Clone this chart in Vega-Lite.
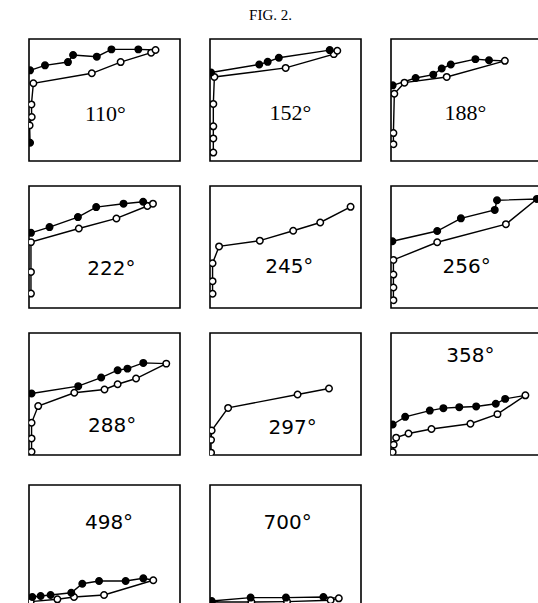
{
"$schema":"https://vega.github.io/schema/vega-lite/v6.json",
"padding":{"left":28,"top":8,"right":0,"bottom":0},
"background":"white",
"title":{"text":"FIG. 2.","font":"Liberation Serif","fontSize":15,"fontWeight":"normal","anchor":"middle","dx":-15,"offset":15,"color":"black"},
"config":{"view":{"stroke":"black","strokeWidth":1.6},"axis":{"disable":true},"mark":{"color":"black"},"line":{"stroke":"black","strokeWidth":1.4},"point":{"shape":"circle","filled":true,"stroke":"black","strokeWidth":1.5,"size":42,"opacity":1},"text":{"font":"Liberation Serif","fontSize":22,"fill":"black","align":"center","baseline":"middle"}},
"datasets":{
"lab":[{"p":"110","t":"110°"},{"p":"152","t":"152°"},{"p":"188","t":"188°"},{"p":"222","t":"222°"},{"p":"245","t":"245°"},{"p":"256","t":"256°"},{"p":"288","t":"288°"},{"p":"297","t":"297°"},{"p":"358","t":"358°"},{"p":"498","t":"498°"},{"p":"700","t":"700°"}],
"d":[
{"p":"110","i":1,"x":0.7,"y":15.0,"f":"f"},{"p":"110","i":2,"x":0.4,"y":29.2,"f":"o"},{"p":"110","i":3,"x":1.8,"y":36.1,"f":"o"},{"p":"110","i":4,"x":1.6,"y":46.4,"f":"o"},{"p":"110","i":5,"x":2.9,"y":63.7,"f":"o"},{"p":"110","i":6,"x":41.6,"y":71.9,"f":"o"},{"p":"110","i":7,"x":60.7,"y":81.1,"f":"o"},{"p":"110","i":8,"x":80.9,"y":88.8,"f":"o"},{"p":"110","i":9,"x":83.8,"y":91.0,"f":"o"},{"p":"110","i":10,"x":72.4,"y":91.5,"f":"f"},{"p":"110","i":11,"x":54.6,"y":91.5,"f":"f"},{"p":"110","i":12,"x":44.9,"y":85.5,"f":"f"},{"p":"110","i":13,"x":29.2,"y":86.9,"f":"f"},{"p":"110","i":14,"x":25.8,"y":81.1,"f":"f"},{"p":"110","i":15,"x":10.6,"y":78.4,"f":"f"},{"p":"110","i":16,"x":0.7,"y":74.3,"f":"f"},
{"p":"152","i":1,"x":2.2,"y":6.9,"f":"o"},{"p":"152","i":2,"x":2.2,"y":18.5,"f":"o"},{"p":"152","i":3,"x":2.2,"y":28.4,"f":"o"},{"p":"152","i":4,"x":2.2,"y":46.8,"f":"o"},{"p":"152","i":5,"x":2.9,"y":68.9,"f":"o"},{"p":"152","i":6,"x":50.1,"y":76.3,"f":"o"},{"p":"152","i":7,"x":82.0,"y":87.6,"f":"o"},{"p":"152","i":8,"x":84.3,"y":90.4,"f":"o"},{"p":"152","i":9,"x":79.3,"y":90.9,"f":"f"},{"p":"152","i":10,"x":45.6,"y":84.6,"f":"f"},{"p":"152","i":11,"x":38.2,"y":81.3,"f":"f"},{"p":"152","i":12,"x":32.6,"y":79.1,"f":"f"},{"p":"152","i":13,"x":0.7,"y":72.5,"f":"f"},
{"p":"188","i":1,"x":1.6,"y":13.8,"f":"o"},{"p":"188","i":2,"x":1.6,"y":22.9,"f":"o"},{"p":"188","i":3,"x":2.2,"y":55.1,"f":"o"},{"p":"188","i":4,"x":8.9,"y":64.2,"f":"o"},{"p":"188","i":5,"x":36.9,"y":68.9,"f":"o"},{"p":"188","i":6,"x":75.4,"y":82.1,"f":"o"},{"p":"188","i":7,"x":64.9,"y":82.6,"f":"f"},{"p":"188","i":8,"x":55.9,"y":83.5,"f":"f"},{"p":"188","i":9,"x":39.6,"y":79.1,"f":"f"},{"p":"188","i":10,"x":33.6,"y":75.8,"f":"f"},{"p":"188","i":11,"x":28.0,"y":70.8,"f":"f"},{"p":"188","i":12,"x":16.3,"y":68.0,"f":"f"},{"p":"188","i":13,"x":1.1,"y":62.0,"f":"f"},
{"p":"222","i":1,"x":1.3,"y":11.8,"f":"o"},{"p":"222","i":2,"x":1.3,"y":29.6,"f":"o"},{"p":"222","i":3,"x":1.3,"y":54.0,"f":"o"},{"p":"222","i":4,"x":33.0,"y":65.2,"f":"o"},{"p":"222","i":5,"x":57.9,"y":73.4,"f":"o"},{"p":"222","i":6,"x":78.4,"y":83.6,"f":"o"},{"p":"222","i":7,"x":82.1,"y":85.5,"f":"o"},{"p":"222","i":8,"x":75.6,"y":87.1,"f":"f"},{"p":"222","i":9,"x":62.6,"y":85.5,"f":"f"},{"p":"222","i":10,"x":44.5,"y":82.7,"f":"f"},{"p":"222","i":11,"x":32.4,"y":74.5,"f":"f"},{"p":"222","i":12,"x":13.6,"y":66.3,"f":"f"},{"p":"222","i":13,"x":1.3,"y":61.6,"f":"f"},
{"p":"245","i":1,"x":1.7,"y":11.7,"f":"o"},{"p":"245","i":2,"x":1.7,"y":22.0,"f":"o"},{"p":"245","i":3,"x":1.7,"y":36.7,"f":"o"},{"p":"245","i":4,"x":6.0,"y":50.5,"f":"o"},{"p":"245","i":5,"x":33.0,"y":55.2,"f":"o"},{"p":"245","i":6,"x":55.1,"y":63.3,"f":"o"},{"p":"245","i":7,"x":73.0,"y":70.1,"f":"o"},{"p":"245","i":8,"x":93.1,"y":82.9,"f":"o"},
{"p":"256","i":1,"x":1.6,"y":6.4,"f":"o"},{"p":"256","i":2,"x":1.6,"y":16.8,"f":"o"},{"p":"256","i":3,"x":1.6,"y":27.4,"f":"o"},{"p":"256","i":4,"x":1.6,"y":39.4,"f":"o"},{"p":"256","i":5,"x":30.6,"y":53.9,"f":"o"},{"p":"256","i":6,"x":76.1,"y":68.7,"f":"o"},{"p":"256","i":7,"x":96.6,"y":89.4,"f":"f"},{"p":"256","i":8,"x":70.2,"y":88.3,"f":"f"},{"p":"256","i":9,"x":68.7,"y":80.4,"f":"f"},{"p":"256","i":10,"x":46.3,"y":73.5,"f":"f"},{"p":"256","i":11,"x":30.6,"y":63.1,"f":"f"},{"p":"256","i":12,"x":0.9,"y":54.7,"f":"f"},
{"p":"288","i":1,"x":1.7,"y":2.7,"f":"o"},{"p":"288","i":2,"x":1.7,"y":13.6,"f":"o"},{"p":"288","i":3,"x":1.7,"y":26.4,"f":"o"},{"p":"288","i":4,"x":6.1,"y":40.1,"f":"o"},{"p":"288","i":5,"x":30.0,"y":51.0,"f":"o"},{"p":"288","i":6,"x":50.0,"y":53.7,"f":"o"},{"p":"288","i":7,"x":58.7,"y":58.0,"f":"o"},{"p":"288","i":8,"x":70.9,"y":62.7,"f":"o"},{"p":"288","i":9,"x":90.9,"y":74.9,"f":"o"},{"p":"288","i":10,"x":75.7,"y":75.5,"f":"f"},{"p":"288","i":11,"x":65.2,"y":70.8,"f":"f"},{"p":"288","i":12,"x":58.7,"y":69.5,"f":"f"},{"p":"288","i":13,"x":47.8,"y":63.5,"f":"f"},{"p":"288","i":14,"x":32.6,"y":56.4,"f":"f"},{"p":"288","i":15,"x":1.7,"y":50.4,"f":"f"},
{"p":"297","i":1,"x":0.7,"y":1.9,"f":"o"},{"p":"297","i":2,"x":0.7,"y":12.4,"f":"o"},{"p":"297","i":3,"x":1.1,"y":20.1,"f":"o"},{"p":"297","i":4,"x":12.0,"y":38.6,"f":"o"},{"p":"297","i":5,"x":58.0,"y":49.6,"f":"o"},{"p":"297","i":6,"x":78.8,"y":54.5,"f":"o"},
{"p":"358","i":1,"x":1.1,"y":2.3,"f":"o"},{"p":"358","i":2,"x":1.8,"y":8.5,"f":"o"},{"p":"358","i":3,"x":3.4,"y":14.2,"f":"o"},{"p":"358","i":4,"x":11.6,"y":17.6,"f":"o"},{"p":"358","i":5,"x":26.8,"y":21.3,"f":"o"},{"p":"358","i":6,"x":52.6,"y":25.6,"f":"o"},{"p":"358","i":7,"x":70.5,"y":33.5,"f":"o"},{"p":"358","i":8,"x":89.0,"y":48.9,"f":"o"},{"p":"358","i":9,"x":75.6,"y":46.0,"f":"f"},{"p":"358","i":10,"x":69.4,"y":42.0,"f":"f"},{"p":"358","i":11,"x":56.4,"y":39.8,"f":"f"},{"p":"358","i":12,"x":45.2,"y":39.2,"f":"f"},{"p":"358","i":13,"x":34.7,"y":38.4,"f":"f"},{"p":"358","i":14,"x":25.7,"y":36.4,"f":"f"},{"p":"358","i":15,"x":9.4,"y":31.3,"f":"f"},{"p":"358","i":16,"x":1.1,"y":25.0,"f":"f"},
{"p":"498","i":1,"x":1.1,"y":4.4,"f":"o"},{"p":"498","i":2,"x":18.8,"y":6.3,"f":"o"},{"p":"498","i":3,"x":29.8,"y":8.2,"f":"o"},{"p":"498","i":4,"x":49.7,"y":9.8,"f":"o"},{"p":"498","i":5,"x":82.3,"y":21.9,"f":"o"},{"p":"498","i":6,"x":75.7,"y":23.5,"f":"f"},{"p":"498","i":7,"x":64.0,"y":21.3,"f":"f"},{"p":"498","i":8,"x":46.4,"y":21.3,"f":"f"},{"p":"498","i":9,"x":35.3,"y":19.1,"f":"f"},{"p":"498","i":10,"x":28.0,"y":11.7,"f":"f"},{"p":"498","i":11,"x":14.3,"y":9.8,"f":"f"},{"p":"498","i":12,"x":7.7,"y":9.0,"f":"f"},{"p":"498","i":13,"x":2.2,"y":8.2,"f":"f"},
{"p":"700","i":1,"x":1.1,"y":4.1,"f":"o"},{"p":"700","i":2,"x":27.4,"y":4.1,"f":"o"},{"p":"700","i":3,"x":51.0,"y":4.4,"f":"o"},{"p":"700","i":4,"x":79.9,"y":5.5,"f":"o"},{"p":"700","i":5,"x":85.3,"y":7.1,"f":"o"},{"p":"700","i":6,"x":75.1,"y":8.2,"f":"f"},{"p":"700","i":7,"x":50.3,"y":7.7,"f":"f"},{"p":"700","i":8,"x":26.9,"y":7.7,"f":"f"},{"p":"700","i":9,"x":1.1,"y":4.9,"f":"f"}
]},
"spacing":28,
"vconcat":[
{"spacing":23,"vconcat":[
{"spacing":30,"bounds":"flush","hconcat":[
{"width":151,"height":122,"layer":[
{"data":{"name":"d"},"transform":[{"filter":"datum.p=='110'"}],"mark":{"type":"line","clip":true},"encoding":{"x":{"field":"x","type":"quantitative","scale":{"domain":[0,100],"nice":false}},"y":{"field":"y","type":"quantitative","scale":{"domain":[0,100],"nice":false}},"order":{"field":"i","type":"quantitative"}}},
{"data":{"name":"d"},"transform":[{"filter":"datum.p=='110'"}],"mark":{"type":"point","clip":true},"encoding":{"x":{"field":"x","type":"quantitative","scale":{"domain":[0,100],"nice":false}},"y":{"field":"y","type":"quantitative","scale":{"domain":[0,100],"nice":false}},"fill":{"field":"f","type":"nominal","scale":{"domain":["o","f"],"range":["white","black"]},"legend":null}}},
{"data":{"name":"lab"},"transform":[{"filter":"datum.p=='110'"}],"mark":"text","encoding":{"x":{"datum":50.6,"type":"quantitative","scale":{"domain":[0,100],"nice":false}},"y":{"datum":38.3,"type":"quantitative","scale":{"domain":[0,100],"nice":false}},"text":{"field":"t"}}}]},
{"width":151,"height":122,"layer":[
{"data":{"name":"d"},"transform":[{"filter":"datum.p=='152'"}],"mark":{"type":"line","clip":true},"encoding":{"x":{"field":"x","type":"quantitative","scale":{"domain":[0,100],"nice":false}},"y":{"field":"y","type":"quantitative","scale":{"domain":[0,100],"nice":false}},"order":{"field":"i","type":"quantitative"}}},
{"data":{"name":"d"},"transform":[{"filter":"datum.p=='152'"}],"mark":{"type":"point","clip":true},"encoding":{"x":{"field":"x","type":"quantitative","scale":{"domain":[0,100],"nice":false}},"y":{"field":"y","type":"quantitative","scale":{"domain":[0,100],"nice":false}},"fill":{"field":"f","type":"nominal","scale":{"domain":["o","f"],"range":["white","black"]},"legend":null}}},
{"data":{"name":"lab"},"transform":[{"filter":"datum.p=='152'"}],"mark":"text","encoding":{"x":{"datum":53.3,"type":"quantitative","scale":{"domain":[0,100],"nice":false}},"y":{"datum":39.4,"type":"quantitative","scale":{"domain":[0,100],"nice":false}},"text":{"field":"t"}}}]},
{"width":151,"height":122,"layer":[
{"data":{"name":"d"},"transform":[{"filter":"datum.p=='188'"}],"mark":{"type":"line","clip":true},"encoding":{"x":{"field":"x","type":"quantitative","scale":{"domain":[0,100],"nice":false}},"y":{"field":"y","type":"quantitative","scale":{"domain":[0,100],"nice":false}},"order":{"field":"i","type":"quantitative"}}},
{"data":{"name":"d"},"transform":[{"filter":"datum.p=='188'"}],"mark":{"type":"point","clip":true},"encoding":{"x":{"field":"x","type":"quantitative","scale":{"domain":[0,100],"nice":false}},"y":{"field":"y","type":"quantitative","scale":{"domain":[0,100],"nice":false}},"fill":{"field":"f","type":"nominal","scale":{"domain":["o","f"],"range":["white","black"]},"legend":null}}},
{"data":{"name":"lab"},"transform":[{"filter":"datum.p=='188'"}],"mark":"text","encoding":{"x":{"datum":49.2,"type":"quantitative","scale":{"domain":[0,100],"nice":false}},"y":{"datum":39.4,"type":"quantitative","scale":{"domain":[0,100],"nice":false}},"text":{"field":"t"}}}]}
]},
{"spacing":30,"bounds":"flush","hconcat":[
{"width":151,"height":122,"layer":[
{"data":{"name":"d"},"transform":[{"filter":"datum.p=='222'"}],"mark":{"type":"line","clip":true},"encoding":{"x":{"field":"x","type":"quantitative","scale":{"domain":[0,100],"nice":false}},"y":{"field":"y","type":"quantitative","scale":{"domain":[0,100],"nice":false}},"order":{"field":"i","type":"quantitative"}}},
{"data":{"name":"d"},"transform":[{"filter":"datum.p=='222'"}],"mark":{"type":"point","clip":true},"encoding":{"x":{"field":"x","type":"quantitative","scale":{"domain":[0,100],"nice":false}},"y":{"field":"y","type":"quantitative","scale":{"domain":[0,100],"nice":false}},"fill":{"field":"f","type":"nominal","scale":{"domain":["o","f"],"range":["white","black"]},"legend":null}}},
{"data":{"name":"lab"},"transform":[{"filter":"datum.p=='222'"}],"mark":{"type":"text","font":"DejaVu Sans","fontSize":20},"encoding":{"x":{"datum":54.6,"type":"quantitative","scale":{"domain":[0,100],"nice":false}},"y":{"datum":32.3,"type":"quantitative","scale":{"domain":[0,100],"nice":false}},"text":{"field":"t"}}}]},
{"width":151,"height":122,"layer":[
{"data":{"name":"d"},"transform":[{"filter":"datum.p=='245'"}],"mark":{"type":"line","clip":true},"encoding":{"x":{"field":"x","type":"quantitative","scale":{"domain":[0,100],"nice":false}},"y":{"field":"y","type":"quantitative","scale":{"domain":[0,100],"nice":false}},"order":{"field":"i","type":"quantitative"}}},
{"data":{"name":"d"},"transform":[{"filter":"datum.p=='245'"}],"mark":{"type":"point","clip":true},"encoding":{"x":{"field":"x","type":"quantitative","scale":{"domain":[0,100],"nice":false}},"y":{"field":"y","type":"quantitative","scale":{"domain":[0,100],"nice":false}},"fill":{"field":"f","type":"nominal","scale":{"domain":["o","f"],"range":["white","black"]},"legend":null}}},
{"data":{"name":"lab"},"transform":[{"filter":"datum.p=='245'"}],"mark":{"type":"text","font":"DejaVu Sans","fontSize":20},"encoding":{"x":{"datum":52.5,"type":"quantitative","scale":{"domain":[0,100],"nice":false}},"y":{"datum":34.0,"type":"quantitative","scale":{"domain":[0,100],"nice":false}},"text":{"field":"t"}}}]},
{"width":151,"height":122,"layer":[
{"data":{"name":"d"},"transform":[{"filter":"datum.p=='256'"}],"mark":{"type":"line","clip":true},"encoding":{"x":{"field":"x","type":"quantitative","scale":{"domain":[0,100],"nice":false}},"y":{"field":"y","type":"quantitative","scale":{"domain":[0,100],"nice":false}},"order":{"field":"i","type":"quantitative"}}},
{"data":{"name":"d"},"transform":[{"filter":"datum.p=='256'"}],"mark":{"type":"point","clip":true},"encoding":{"x":{"field":"x","type":"quantitative","scale":{"domain":[0,100],"nice":false}},"y":{"field":"y","type":"quantitative","scale":{"domain":[0,100],"nice":false}},"fill":{"field":"f","type":"nominal","scale":{"domain":["o","f"],"range":["white","black"]},"legend":null}}},
{"data":{"name":"lab"},"transform":[{"filter":"datum.p=='256'"}],"mark":{"type":"text","font":"DejaVu Sans","fontSize":20},"encoding":{"x":{"datum":50.1,"type":"quantitative","scale":{"domain":[0,100],"nice":false}},"y":{"datum":33.5,"type":"quantitative","scale":{"domain":[0,100],"nice":false}},"text":{"field":"t"}}}]}
]},
{"spacing":30,"bounds":"flush","hconcat":[
{"width":151,"height":122,"layer":[
{"data":{"name":"d"},"transform":[{"filter":"datum.p=='288'"}],"mark":{"type":"line","clip":true},"encoding":{"x":{"field":"x","type":"quantitative","scale":{"domain":[0,100],"nice":false}},"y":{"field":"y","type":"quantitative","scale":{"domain":[0,100],"nice":false}},"order":{"field":"i","type":"quantitative"}}},
{"data":{"name":"d"},"transform":[{"filter":"datum.p=='288'"}],"mark":{"type":"point","clip":true},"encoding":{"x":{"field":"x","type":"quantitative","scale":{"domain":[0,100],"nice":false}},"y":{"field":"y","type":"quantitative","scale":{"domain":[0,100],"nice":false}},"fill":{"field":"f","type":"nominal","scale":{"domain":["o","f"],"range":["white","black"]},"legend":null}}},
{"data":{"name":"lab"},"transform":[{"filter":"datum.p=='288'"}],"mark":{"type":"text","font":"DejaVu Sans","fontSize":20},"encoding":{"x":{"datum":55.0,"type":"quantitative","scale":{"domain":[0,100],"nice":false}},"y":{"datum":23.7,"type":"quantitative","scale":{"domain":[0,100],"nice":false}},"text":{"field":"t"}}}]},
{"width":151,"height":122,"layer":[
{"data":{"name":"d"},"transform":[{"filter":"datum.p=='297'"}],"mark":{"type":"line","clip":true},"encoding":{"x":{"field":"x","type":"quantitative","scale":{"domain":[0,100],"nice":false}},"y":{"field":"y","type":"quantitative","scale":{"domain":[0,100],"nice":false}},"order":{"field":"i","type":"quantitative"}}},
{"data":{"name":"d"},"transform":[{"filter":"datum.p=='297'"}],"mark":{"type":"point","clip":true},"encoding":{"x":{"field":"x","type":"quantitative","scale":{"domain":[0,100],"nice":false}},"y":{"field":"y","type":"quantitative","scale":{"domain":[0,100],"nice":false}},"fill":{"field":"f","type":"nominal","scale":{"domain":["o","f"],"range":["white","black"]},"legend":null}}},
{"data":{"name":"lab"},"transform":[{"filter":"datum.p=='297'"}],"mark":{"type":"text","font":"DejaVu Sans","fontSize":20},"encoding":{"x":{"datum":54.7,"type":"quantitative","scale":{"domain":[0,100],"nice":false}},"y":{"datum":22.0,"type":"quantitative","scale":{"domain":[0,100],"nice":false}},"text":{"field":"t"}}}]},
{"width":151,"height":122,"layer":[
{"data":{"name":"d"},"transform":[{"filter":"datum.p=='358'"}],"mark":{"type":"line","clip":true},"encoding":{"x":{"field":"x","type":"quantitative","scale":{"domain":[0,100],"nice":false}},"y":{"field":"y","type":"quantitative","scale":{"domain":[0,100],"nice":false}},"order":{"field":"i","type":"quantitative"}}},
{"data":{"name":"d"},"transform":[{"filter":"datum.p=='358'"}],"mark":{"type":"point","clip":true},"encoding":{"x":{"field":"x","type":"quantitative","scale":{"domain":[0,100],"nice":false}},"y":{"field":"y","type":"quantitative","scale":{"domain":[0,100],"nice":false}},"fill":{"field":"f","type":"nominal","scale":{"domain":["o","f"],"range":["white","black"]},"legend":null}}},
{"data":{"name":"lab"},"transform":[{"filter":"datum.p=='358'"}],"mark":{"type":"text","font":"DejaVu Sans","fontSize":20},"encoding":{"x":{"datum":52.6,"type":"quantitative","scale":{"domain":[0,100],"nice":false}},"y":{"datum":81.0,"type":"quantitative","scale":{"domain":[0,100],"nice":false}},"text":{"field":"t"}}}]}
]}
]},
{"spacing":30,"bounds":"flush","hconcat":[
{"width":151,"height":122,"layer":[
{"data":{"name":"d"},"transform":[{"filter":"datum.p=='498'"}],"mark":{"type":"line","clip":true},"encoding":{"x":{"field":"x","type":"quantitative","scale":{"domain":[0,100],"nice":false}},"y":{"field":"y","type":"quantitative","scale":{"domain":[0,100],"nice":false}},"order":{"field":"i","type":"quantitative"}}},
{"data":{"name":"d"},"transform":[{"filter":"datum.p=='498'"}],"mark":{"type":"point","clip":true},"encoding":{"x":{"field":"x","type":"quantitative","scale":{"domain":[0,100],"nice":false}},"y":{"field":"y","type":"quantitative","scale":{"domain":[0,100],"nice":false}},"fill":{"field":"f","type":"nominal","scale":{"domain":["o","f"],"range":["white","black"]},"legend":null}}},
{"data":{"name":"lab"},"transform":[{"filter":"datum.p=='498'"}],"mark":{"type":"text","font":"DejaVu Sans","fontSize":20},"encoding":{"x":{"datum":53.0,"type":"quantitative","scale":{"domain":[0,100],"nice":false}},"y":{"datum":69.1,"type":"quantitative","scale":{"domain":[0,100],"nice":false}},"text":{"field":"t"}}}]},
{"width":151,"height":122,"layer":[
{"data":{"name":"d"},"transform":[{"filter":"datum.p=='700'"}],"mark":{"type":"line","clip":true},"encoding":{"x":{"field":"x","type":"quantitative","scale":{"domain":[0,100],"nice":false}},"y":{"field":"y","type":"quantitative","scale":{"domain":[0,100],"nice":false}},"order":{"field":"i","type":"quantitative"}}},
{"data":{"name":"d"},"transform":[{"filter":"datum.p=='700'"}],"mark":{"type":"point","clip":true},"encoding":{"x":{"field":"x","type":"quantitative","scale":{"domain":[0,100],"nice":false}},"y":{"field":"y","type":"quantitative","scale":{"domain":[0,100],"nice":false}},"fill":{"field":"f","type":"nominal","scale":{"domain":["o","f"],"range":["white","black"]},"legend":null}}},
{"data":{"name":"lab"},"transform":[{"filter":"datum.p=='700'"}],"mark":{"type":"text","font":"DejaVu Sans","fontSize":20},"encoding":{"x":{"datum":51.4,"type":"quantitative","scale":{"domain":[0,100],"nice":false}},"y":{"datum":69.1,"type":"quantitative","scale":{"domain":[0,100],"nice":false}},"text":{"field":"t"}}}]}
]}
]
}
